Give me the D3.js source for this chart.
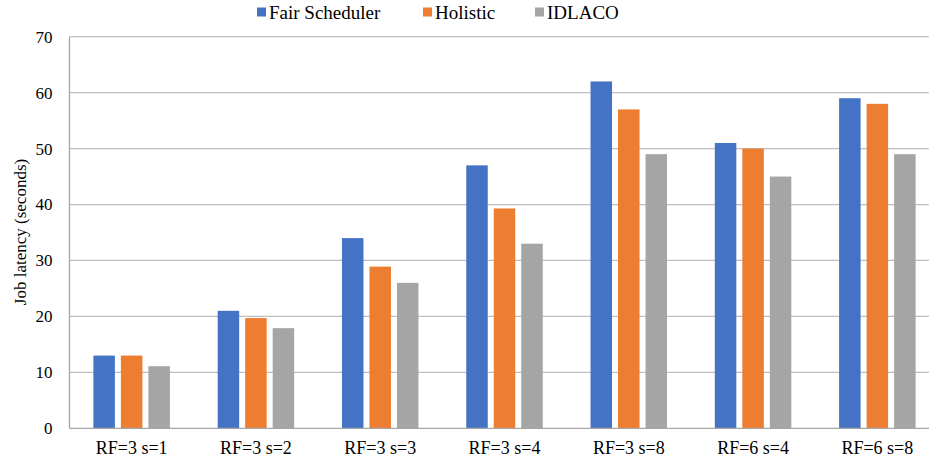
<!DOCTYPE html>
<html>
<head>
<meta charset="utf-8">
<script src="https://cdn.jsdelivr.net/npm/d3@7"></script>
<style>
  html, body { margin: 0; padding: 0; background: #fff; }
  svg { display: block; }
</style>
</head>
<body>
<svg id="chart" width="929" height="464"></svg>
<script>
// Job latency per configuration, in seconds
const categories = ["RF=3 s=1", "RF=3 s=2", "RF=3 s=3", "RF=3 s=4", "RF=3 s=8", "RF=6 s=4", "RF=6 s=8"];
const seriesNames = ["Fair Scheduler", "Holistic", "IDLACO"];
const fairScheduler = [13, 21, 34, 47, 62, 51, 59];
const holistic = [13, 19.7, 28.9, 39.3, 57, 50, 58];
const idlaco = [11.1, 17.9, 26, 33, 49, 45, 49];
const yTicks = [0, 10, 20, 30, 40, 50, 60, 70];
const colors = ["#4472C4", "#ED7D31", "#A5A5A5"];

const seriesValues = [fairScheduler, holistic, idlaco];
const FONT = "'Liberation Serif', 'Times New Roman', serif";
const W = 929, H = 464;
const plot = { left: 69.5, top: 36.7, bottom: 428.3, right: 939.5 };

const svg = d3.select("#chart");

const x = d3.scaleBand().domain(categories).range([plot.left, plot.right]).paddingInner(0).paddingOuter(0);
const y = d3.scaleLinear().domain([0, 70]).range([plot.bottom, plot.top]);

// bars within a group: 21.5px wide with 6px gaps, centred in the band
const barW = 21.5, barStep = 27.5;
const xInner = d3.scaleBand().domain(seriesNames)
  .range([x.bandwidth() / 2 - 1.5 * barStep, x.bandwidth() / 2 + 1.5 * barStep]);

// horizontal gridlines
svg.append("g")
  .selectAll("line")
  .data(yTicks.filter(d => d > 0))
  .join("line")
  .attr("x1", plot.left).attr("x2", W)
  .attr("y1", d => y(d)).attr("y2", d => y(d))
  .attr("stroke", "#BFBFBF").attr("stroke-width", 1.3);

// y tick labels
const yAxis = d3.axisLeft(y).tickValues(yTicks).tickSize(0).tickPadding(17);
const gy = svg.append("g").attr("transform", `translate(${plot.left},0)`).call(yAxis);
gy.attr("font-family", null);
gy.select(".domain").remove();
gy.selectAll("text").style("font-family", FONT).style("font-size", "17px").attr("fill", "#000");

// bars
const groups = svg.append("g")
  .selectAll("g")
  .data(categories)
  .join("g")
  .attr("transform", d => `translate(${x(d)},0)`);

groups.selectAll("rect")
  .data((c, i) => seriesNames.map((s, j) => ({ s, j, v: seriesValues[j][i] })))
  .join("rect")
  .attr("x", d => xInner(d.s) + (barStep - barW) / 2)
  .attr("width", barW)
  .attr("y", d => y(d.v))
  .attr("height", d => y(0) - y(d.v))
  .attr("fill", d => colors[d.j]);

// axis lines
svg.append("line")
  .attr("x1", plot.left).attr("x2", plot.left)
  .attr("y1", plot.top).attr("y2", plot.bottom)
  .attr("stroke", "#A6A6A6").attr("stroke-width", 1.3);
svg.append("line")
  .attr("x1", plot.left).attr("x2", W)
  .attr("y1", plot.bottom).attr("y2", plot.bottom)
  .attr("stroke", "#A6A6A6").attr("stroke-width", 1.3);

// x category labels
const xAxis = d3.axisBottom(x).tickSize(0).tickPadding(13);
const gx = svg.append("g").attr("transform", `translate(0,${plot.bottom})`).call(xAxis);
gx.attr("font-family", null);
gx.select(".domain").remove();
gx.selectAll("text").style("font-family", FONT).style("font-size", "18px").attr("fill", "#000");

// y axis title
svg.append("text")
  .attr("transform", `translate(26,${(plot.top + plot.bottom) / 2 - 0.5}) rotate(-90)`)
  .attr("text-anchor", "middle")
  .style("font-family", FONT).style("font-size", "17px")
  .attr("fill", "#000")
  .text("Job latency (seconds)");

// legend
const legendX = [257, 423, 535];
const legend = svg.append("g")
  .selectAll("g")
  .data(seriesNames)
  .join("g")
  .attr("transform", (d, i) => `translate(${legendX[i]},12)`);
legend.append("rect")
  .attr("x", 0).attr("y", -4.5).attr("width", 9).attr("height", 9)
  .attr("fill", (d, i) => colors[i]);
legend.append("text")
  .attr("x", 12).attr("y", 0).attr("dy", "0.35em")
  .style("font-family", FONT).style("font-size", "19px")
  .attr("fill", "#000")
  .text(d => d);
</script>
</body>
</html>
